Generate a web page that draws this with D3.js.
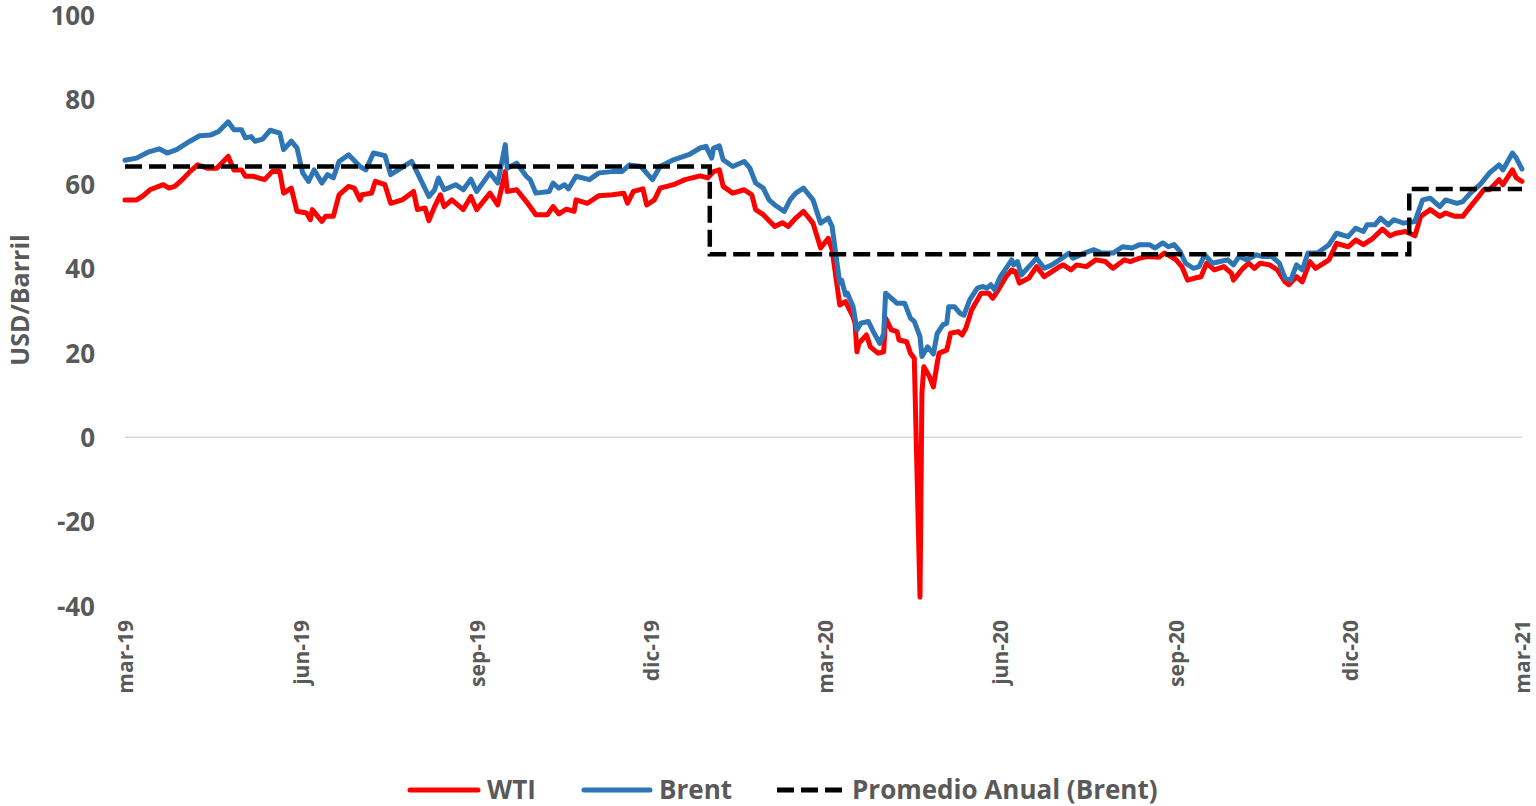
<!DOCTYPE html>
<html>
<head>
<meta charset="utf-8">
<script src="https://cdn.jsdelivr.net/npm/d3@7"></script>
<style>
  html, body { margin: 0; padding: 0; background: #fff; }
  svg { display: block; }
  text { font-family: "Open Sans", sans-serif; font-weight: 700; fill: #595959; }
</style>
</head>
<body>
<svg id="chart" width="1536" height="806"></svg>
<script>
// ---------------- datos ----------------
const wti = [
  ["2019-03-01",56.2],["2019-03-07",56.2],["2019-03-10",57.0],["2019-03-14",58.6],["2019-03-21",59.8],
  ["2019-03-24",59.0],["2019-03-27",59.4],["2019-03-31",61.0],["2019-04-04",62.9],["2019-04-08",64.5],
  ["2019-04-13",63.7],["2019-04-18",63.7],["2019-04-24",66.5],["2019-04-27",63.3],["2019-05-01",63.3],
  ["2019-05-03",61.8],["2019-05-07",61.8],["2019-05-13",61.0],["2019-05-17",62.9],["2019-05-21",62.9],
  ["2019-05-23",57.8],["2019-05-27",59.0],["2019-05-30",53.5],["2019-06-04",53.1],["2019-06-06",51.5],
  ["2019-06-07",53.9],["2019-06-12",51.1],["2019-06-14",52.3],["2019-06-18",52.3],["2019-06-21",57.4],
  ["2019-06-26",59.4],["2019-06-29",59.0],["2019-07-02",56.2],["2019-07-03",57.4],["2019-07-08",57.8],
  ["2019-07-10",60.6],["2019-07-15",59.8],["2019-07-18",55.4],["2019-07-24",56.2],["2019-07-30",58.2],
  ["2019-08-01",53.9],["2019-08-05",54.3],["2019-08-07",51.3],["2019-08-10",54.6],["2019-08-13",57.4],
  ["2019-08-15",54.6],["2019-08-19",56.2],["2019-08-25",53.9],["2019-08-29",57.0],["2019-09-01",53.9],
  ["2019-09-08",57.8],["2019-09-12",55.0],["2019-09-16",62.9],["2019-09-17",58.2],["2019-09-22",58.6],
  ["2019-09-27",55.8],["2019-10-02",52.7],["2019-10-08",52.7],["2019-10-11",54.6],["2019-10-14",52.9],
  ["2019-10-18",54.0],["2019-10-22",53.5],["2019-10-23",56.2],["2019-10-29",55.4],["2019-11-04",57.2],
  ["2019-11-11",57.4],["2019-11-17",57.8],["2019-11-19",55.4],["2019-11-22",58.2],["2019-11-27",58.8],
  ["2019-11-29",55.0],["2019-12-03",56.2],["2019-12-06",59.0],["2019-12-13",59.8],["2019-12-19",61.0],
  ["2019-12-27",61.9],["2019-12-31",61.4],["2020-01-03",62.9],["2020-01-06",63.3],["2020-01-08",59.4],
  ["2020-01-13",57.8],["2020-01-19",58.6],["2020-01-23",57.4],["2020-01-25",53.9],["2020-01-29",52.7],
  ["2020-02-04",49.9],["2020-02-08",50.8],["2020-02-11",49.9],["2020-02-15",51.9],["2020-02-19",53.5],
  ["2020-02-24",50.7],["2020-02-28",44.8],["2020-03-03",47.1],["2020-03-05",44.4],["2020-03-09",31.3],
  ["2020-03-12",32.1],["2020-03-16",28.5],["2020-03-17",27.0],["2020-03-18",20.2],["2020-03-19",22.2],
  ["2020-03-23",24.2],["2020-03-25",21.4],["2020-03-29",19.9],["2020-04-01",20.2],["2020-04-02",28.2],
  ["2020-04-05",25.4],["2020-04-08",25.0],["2020-04-09",23.0],["2020-04-13",22.6],["2020-04-15",19.9],
  ["2020-04-17",18.7],["2020-04-20",-37.9],["2020-04-21",10.4],["2020-04-22",16.7],["2020-04-25",14.3],
  ["2020-04-27",11.9],["2020-04-29",17.5],["2020-04-30",19.9],["2020-05-04",20.6],["2020-05-06",24.6],
  ["2020-05-10",25.0],["2020-05-12",24.2],["2020-05-14",25.8],["2020-05-17",30.1],["2020-05-22",34.1],
  ["2020-05-26",34.1],["2020-05-28",32.9],["2020-05-31",34.9],["2020-06-04",38.0],["2020-06-07",39.6],
  ["2020-06-09",39.2],["2020-06-11",36.5],["2020-06-16",37.7],["2020-06-20",40.4],["2020-06-24",38.0],
  ["2020-06-28",39.2],["2020-07-02",40.4],["2020-07-04",40.8],["2020-07-08",39.6],["2020-07-11",40.8],
  ["2020-07-16",40.4],["2020-07-21",42.0],["2020-07-26",41.6],["2020-07-30",40.0],["2020-08-05",42.0],
  ["2020-08-08",41.6],["2020-08-13",42.4],["2020-08-17",42.8],["2020-08-23",42.6],["2020-08-26",43.6],
  ["2020-08-30",42.6],["2020-09-01",42.0],["2020-09-04",40.4],["2020-09-07",37.2],["2020-09-11",37.7],
  ["2020-09-14",38.0],["2020-09-17",41.2],["2020-09-21",39.6],["2020-09-26",40.4],["2020-09-30",38.8],
  ["2020-10-01",37.2],["2020-10-06",40.0],["2020-10-09",41.2],["2020-10-12",40.0],["2020-10-15",41.2],
  ["2020-10-20",40.8],["2020-10-24",39.6],["2020-10-28",36.8],["2020-10-30",36.1],["2020-11-03",38.0],
  ["2020-11-06",36.8],["2020-11-10",41.6],["2020-11-13",40.0],["2020-11-20",42.0],["2020-11-24",45.9],
  ["2020-11-30",45.1],["2020-12-04",46.7],["2020-12-08",45.6],["2020-12-13",47.1],["2020-12-18",49.3],
  ["2020-12-22",47.7],["2020-12-25",48.3],["2020-12-30",48.7],["2021-01-04",47.7],["2021-01-07",52.3],
  ["2021-01-12",53.9],["2021-01-17",52.3],["2021-01-20",53.1],["2021-01-25",52.3],["2021-01-29",52.3],
  ["2021-02-02",54.6],["2021-02-07",57.4],["2021-02-09",58.6],["2021-02-12",58.6],["2021-02-17",61.0],
  ["2021-02-19",59.8],["2021-02-24",63.3],["2021-02-26",61.4],["2021-03-01",60.6]
];

const brent = [
  ["2019-03-01",65.6],["2019-03-07",66.1],["2019-03-13",67.5],["2019-03-19",68.3],["2019-03-23",67.3],
  ["2019-03-28",68.1],["2019-04-04",70.1],["2019-04-09",71.4],["2019-04-15",71.6],["2019-04-19",72.4],
  ["2019-04-24",74.7],["2019-04-27",72.8],["2019-05-01",72.8],["2019-05-03",70.9],["2019-05-06",71.2],
  ["2019-05-08",70.1],["2019-05-12",70.6],["2019-05-16",72.7],["2019-05-21",72.0],["2019-05-23",68.1],
  ["2019-05-27",70.1],["2019-05-30",68.5],["2019-06-02",62.6],["2019-06-05",60.6],["2019-06-08",63.3],
  ["2019-06-12",60.2],["2019-06-15",62.2],["2019-06-18",61.4],["2019-06-21",65.3],["2019-06-26",66.9],
  ["2019-07-02",64.1],["2019-07-05",63.3],["2019-07-09",67.3],["2019-07-15",66.7],["2019-07-18",62.2],
  ["2019-07-22",63.3],["2019-07-29",65.3],["2019-08-01",62.6],["2019-08-07",57.0],["2019-08-10",58.6],
  ["2019-08-12",61.4],["2019-08-15",58.6],["2019-08-21",59.8],["2019-08-25",58.6],["2019-08-29",61.1],
  ["2019-09-01",58.2],["2019-09-08",62.6],["2019-09-12",60.2],["2019-09-16",69.3],["2019-09-17",63.7],
  ["2019-09-22",64.9],["2019-09-27",61.8],["2019-09-29",61.0],["2019-10-02",57.8],["2019-10-09",58.2],
  ["2019-10-11",60.2],["2019-10-14",59.0],["2019-10-17",59.8],["2019-10-19",58.8],["2019-10-23",61.8],
  ["2019-10-30",61.0],["2019-11-04",62.6],["2019-11-11",62.9],["2019-11-16",62.9],["2019-11-20",64.5],
  ["2019-11-26",64.1],["2019-12-02",61.0],["2019-12-06",64.1],["2019-12-13",65.7],["2019-12-21",66.9],
  ["2019-12-27",68.5],["2019-12-30",68.9],["2020-01-02",66.1],["2020-01-03",68.5],["2020-01-06",69.0],
  ["2020-01-08",65.7],["2020-01-13",64.1],["2020-01-19",65.3],["2020-01-22",63.7],["2020-01-25",60.2],
  ["2020-01-29",59.0],["2020-02-01",56.2],["2020-02-04",55.0],["2020-02-09",53.5],["2020-02-12",56.2],
  ["2020-02-15",57.8],["2020-02-19",59.0],["2020-02-24",56.2],["2020-02-28",50.7],["2020-03-03",51.9],
  ["2020-03-05",49.9],["2020-03-09",36.5],["2020-03-10",37.2],["2020-03-12",33.7],["2020-03-13",34.1],
  ["2020-03-16",30.9],["2020-03-17",28.2],["2020-03-18",25.4],["2020-03-20",27.0],["2020-03-24",27.4],
  ["2020-03-27",24.6],["2020-03-30",22.2],["2020-04-01",24.6],["2020-04-02",34.1],["2020-04-06",32.5],
  ["2020-04-08",31.7],["2020-04-12",31.7],["2020-04-15",28.2],["2020-04-17",27.4],["2020-04-20",23.8],
  ["2020-04-21",19.1],["2020-04-24",21.4],["2020-04-27",19.7],["2020-04-29",24.6],["2020-05-02",26.6],
  ["2020-05-04",27.0],["2020-05-05",30.9],["2020-05-08",30.9],["2020-05-11",29.3],["2020-05-13",28.9],
  ["2020-05-16",32.5],["2020-05-20",35.3],["2020-05-23",35.7],["2020-05-25",35.3],["2020-05-27",36.1],
  ["2020-05-29",34.9],["2020-06-01",38.0],["2020-06-04",40.0],["2020-06-07",42.0],["2020-06-08",40.8],
  ["2020-06-10",41.6],["2020-06-12",38.4],["2020-06-16",40.4],["2020-06-20",42.4],["2020-06-24",40.0],
  ["2020-06-28",40.8],["2020-07-02",42.0],["2020-07-07",43.6],["2020-07-09",42.4],["2020-07-15",43.6],
  ["2020-07-20",44.4],["2020-07-24",43.6],["2020-07-30",43.6],["2020-08-04",45.1],["2020-08-09",44.8],
  ["2020-08-13",45.6],["2020-08-18",45.6],["2020-08-21",44.8],["2020-08-25",46.0],["2020-08-28",45.1],
  ["2020-08-31",45.6],["2020-09-03",44.0],["2020-09-06",41.2],["2020-09-10",40.0],["2020-09-13",40.4],
  ["2020-09-16",43.2],["2020-09-20",41.2],["2020-09-24",41.6],["2020-09-28",42.0],["2020-10-01",40.8],
  ["2020-10-04",42.8],["2020-10-08",42.0],["2020-10-13",43.2],["2020-10-16",42.8],["2020-10-21",42.8],
  ["2020-10-25",41.2],["2020-10-28",37.7],["2020-10-31",37.2],["2020-11-03",40.8],["2020-11-06",39.6],
  ["2020-11-09",43.6],["2020-11-14",43.6],["2020-11-20",45.6],["2020-11-24",48.3],["2020-11-30",47.5],
  ["2020-12-04",49.5],["2020-12-08",48.7],["2020-12-10",50.3],["2020-12-14",50.3],["2020-12-17",51.9],
  ["2020-12-21",50.3],["2020-12-24",51.5],["2020-12-29",50.7],["2021-01-04",51.1],["2021-01-08",56.2],
  ["2021-01-12",56.6],["2021-01-17",54.6],["2021-01-20",56.2],["2021-01-26",55.4],["2021-01-29",55.8],
  ["2021-02-02",57.8],["2021-02-07",59.8],["2021-02-12",62.6],["2021-02-17",64.5],["2021-02-19",63.3],
  ["2021-02-24",67.3],["2021-02-26",66.1],["2021-03-01",63.5]
];

// promedio anual Brent: inicio, fin, valor
const avgStart = ["2019-03-01", "2020-01-01", "2021-01-01"];
const avgEnd = ["2020-01-01", "2021-01-01", "2021-03-01"];
const avgValue = [64.1, 43.3, 58.8];

const xTickDates = ["2019-03-01","2019-06-01","2019-09-01","2019-12-01","2020-03-01",
                    "2020-06-01","2020-09-01","2020-12-01","2021-03-01"];
const monthNames = ["ene","feb","mar","abr","may","jun","jul","ago","sep","oct","nov","dic"];
const yTicks = [-40, -20, 0, 20, 40, 60, 80, 100];

// ---------------- escalas ----------------
const parse = d3.timeParse("%Y-%m-%d");
const svg = d3.select("#chart");

const x = d3.scaleTime()
  .domain([parse("2019-03-01"), parse("2021-03-01")])
  .range([125, 1522]);
const y = d3.scaleLinear().domain([-40, 100]).range([606, 15]);

// eje Y (solo etiquetas)
const yAxis = svg.append("g")
  .attr("transform", "translate(125,0)")
  .call(d3.axisLeft(y).tickValues(yTicks).tickSize(0).tickPadding(30)
    .tickFormat(d => String(d)));
yAxis.select(".domain").remove();
yAxis.selectAll("text")
  .style("font-size", "26px")
  .attr("fill", "#595959")
  .attr("dy", "0.36em");

// linea de cero
svg.append("line")
  .attr("x1", x.range()[0]).attr("x2", x.range()[1])
  .attr("y1", y(0)).attr("y2", y(0))
  .attr("stroke", "#d9d9d9").attr("stroke-width", 1.5);

// eje X (etiquetas rotadas)
const xAxis = svg.append("g")
  .attr("transform", `translate(0,${y(-40)})`)
  .call(d3.axisBottom(x)
    .tickValues(xTickDates.map(parse))
    .tickSize(0)
    .tickFormat(d => monthNames[d.getMonth()] + "-" + String(d.getFullYear()).slice(2)));
xAxis.select(".domain").remove();
xAxis.selectAll("text")
  .style("font-size", "21px")
  .attr("fill", "#595959")
  .attr("text-anchor", "end")
  .attr("transform", "rotate(-90)")
  .attr("x", -14)
  .attr("y", 0)
  .attr("dy", "0.36em");

// titulo eje Y
svg.append("text")
  .attr("transform", "translate(29,300) rotate(-90)")
  .attr("text-anchor", "middle")
  .style("font-size", "25px")
  .text("USD/Barril");

// ---------------- series ----------------
const line = d3.line()
  .x(d => x(parse(d[0])))
  .y(d => y(d[1]));

svg.append("path")
  .datum(wti)
  .attr("d", line)
  .attr("fill", "none")
  .attr("stroke", "#ff0000")
  .attr("stroke-width", 5)
  .attr("stroke-linejoin", "round")
  .attr("stroke-linecap", "round");

svg.append("path")
  .datum(brent)
  .attr("d", line)
  .attr("fill", "none")
  .attr("stroke", "#2e75b6")
  .attr("stroke-width", 5)
  .attr("stroke-linejoin", "round")
  .attr("stroke-linecap", "round");

// promedio anual escalonado
const avgPoints = [];
avgStart.forEach((s, i) => {
  avgPoints.push([s, avgValue[i]]);
  avgPoints.push([avgEnd[i], avgValue[i]]);
});
svg.append("path")
  .datum(avgPoints)
  .attr("d", line)
  .attr("fill", "none")
  .attr("stroke", "#000")
  .attr("stroke-width", 4.5)
  .attr("stroke-dasharray", "17,7");

// ---------------- leyenda ----------------
const legendItems = [
  { name: "WTI", color: "#ff0000", dash: null, x1: 410, x2: 478 },
  { name: "Brent", color: "#2e75b6", dash: null, x1: 584, x2: 650 },
  { name: "Promedio Anual (Brent)", color: "#000", dash: "17,7", x1: 777, x2: 842 }
];
const legend = svg.append("g");
legendItems.forEach(it => {
  legend.append("line")
    .attr("x1", it.x1).attr("x2", it.x2)
    .attr("y1", 790).attr("y2", 790)
    .attr("stroke", it.color)
    .attr("stroke-width", 5)
    .attr("stroke-linecap", it.dash ? "butt" : "round")
    .attr("stroke-dasharray", it.dash);
  legend.append("text")
    .attr("x", it.x2 + (it.dash ? 10 : 9))
    .attr("y", 799)
    .style("font-size", "26px")
    .text(it.name);
});
</script>
</body>
</html>
